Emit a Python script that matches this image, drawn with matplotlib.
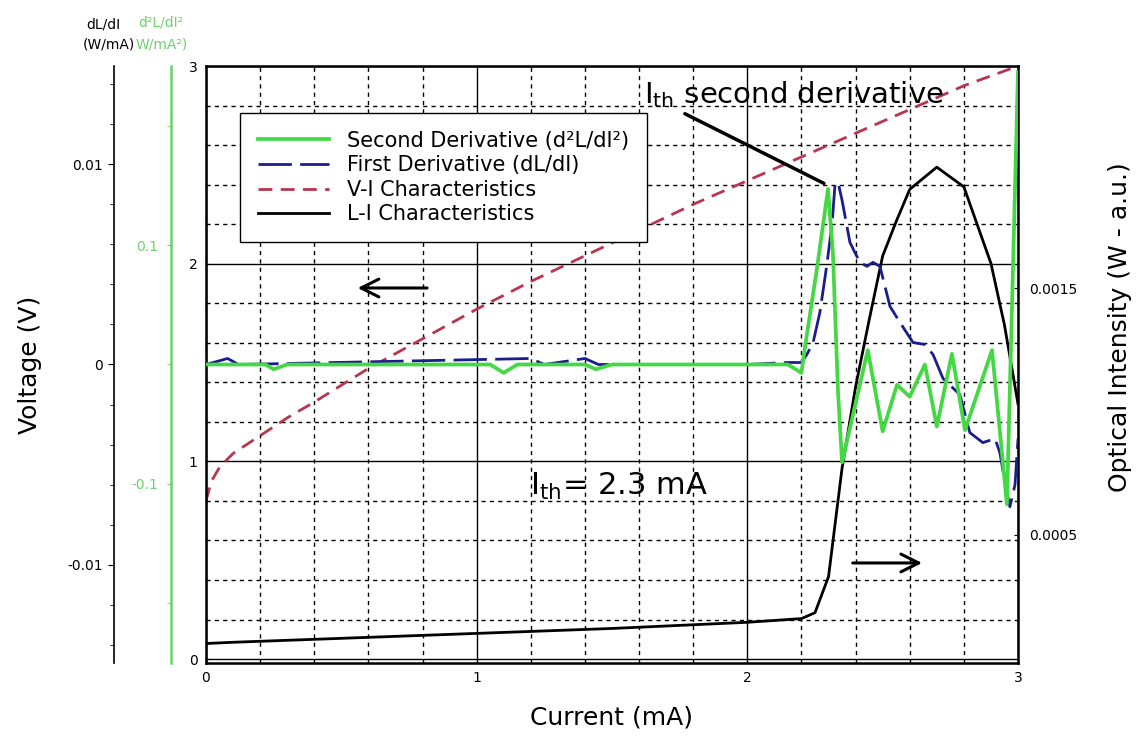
import matplotlib
matplotlib.use('Agg')
import matplotlib.pyplot as plt
from matplotlib.ticker import MultipleLocator, FixedLocator

plt.rcParams['font.family'] = ['DejaVu Sans']

# V-I characteristic (left axis, V)
current_vi = [0, 0.02, 0.05, 0.1, 0.2, 0.3, 0.4, 0.6, 0.8, 1.0, 1.2, 1.4,
              1.6, 1.8, 2.0, 2.2, 2.4, 2.6, 2.8, 3.0]
voltage = [0.80, 0.90, 0.97, 1.04, 1.13, 1.22, 1.30, 1.47, 1.62, 1.77, 1.91,
           2.04, 2.17, 2.30, 2.42, 2.54, 2.66, 2.78, 2.90, 3.00]

# L-I characteristic (right axis, W)
current_li = [0, 0.1, 0.5, 1.0, 1.5, 2.0, 2.2, 2.25, 2.3, 2.35, 2.4, 2.45,
              2.5, 2.55, 2.6, 2.7, 2.8, 2.9, 2.95, 3.0]
intensity = [0.000059, 0.000064, 0.00008, 0.0001, 0.00012, 0.000145, 0.00016,
             0.000184, 0.00033, 0.00077, 0.00110, 0.00137, 0.00163, 0.00177,
             0.00190, 0.00199, 0.00191, 0.00160, 0.00135, 0.00103]

# first derivative dL/dI (W/mA)
current_d1 = [0, 0.08, 0.12, 1.2, 1.25, 1.4, 1.45, 2.0, 2.15, 2.2, 2.22, 2.243,
              2.268, 2.294, 2.313, 2.324, 2.335, 2.35, 2.379, 2.397, 2.416,
              2.442, 2.464, 2.49, 2.527, 2.564, 2.612, 2.656, 2.686, 2.723,
              2.785, 2.822, 2.87, 2.915, 2.933, 2.952, 2.97, 2.989, 3.0]
first_deriv = [0, 0.0003, 0, 0.0003, 0, 0.0003, 0, 0, 0.0001, 0.0001, 0.0005,
               0.0011, 0.0026, 0.0050, 0.0070, 0.0090, 0.0091, 0.0082, 0.0061,
               0.0056, 0.0051, 0.0049, 0.0051, 0.0049, 0.0029, 0.0021, 0.0011,
               0.0010, 0.0005, -0.0007, -0.0015, -0.0034, -0.0039, -0.0037,
               -0.0044, -0.0059, -0.0071, -0.0060, -0.0037]

# second derivative d2L/dI2 (W/mA^2)
current_d2 = [0, 0.22, 0.25, 0.3, 1.05, 1.1, 1.15, 1.4, 1.44, 1.5, 2.1, 2.15,
              2.2, 2.21, 2.257, 2.298, 2.316, 2.335, 2.35, 2.445, 2.5, 2.553,
              2.6, 2.656, 2.7, 2.756, 2.804, 2.904, 2.959, 3.0]
second_deriv = [0, 0, -0.004, 0, 0, -0.007, 0, 0, -0.004, 0, 0, 0, -0.007,
                0.010, 0.080, 0.147, 0.094, -0.023, -0.082, 0.012, -0.056,
                -0.017, -0.027, 0.0, -0.052, 0.009, -0.055, 0.012, -0.117,
                0.245]

green = '#45d845'
green_ax = '#6fd06f'
blue = '#1c1c8f'
red = '#b8354f'

W, H = 1138, 740
fig = plt.figure(figsize=(W / 100, H / 100), dpi=100)
ax = fig.add_axes([206 / W, 1 - 663 / H, 812 / W, 597 / H])
ax.set_xlim(0, 3)
ax.set_ylim(-0.02, 3.0)
ax.xaxis.set_major_locator(MultipleLocator(1))
ax.yaxis.set_major_locator(MultipleLocator(1))
ax.xaxis.set_minor_locator(MultipleLocator(0.2))
ax.yaxis.set_minor_locator(MultipleLocator(0.2))
ax.grid(which='major', color='black', lw=1.0, ls='-')
ax.grid(which='minor', color='black', lw=1.0, ls=(0, (3, 3)))
ax.tick_params(which='major', direction='in', length=3, labelsize=10, pad=6)
ax.tick_params(which='minor', length=0)
for s in ax.spines.values():
    s.set_linewidth(1.8)

fig.text(612 / W, 1 - 718 / H, 'Current (mA)', fontsize=18, ha='center', va='center')
fig.text(30 / W, 1 - 365 / H, 'Voltage (V)', fontsize=18, rotation=90,
         ha='center', va='center')
fig.text(1120 / W, 1 - 327 / H, 'Optical Intensity (W - a.u.)', fontsize=18,
         rotation=90, ha='center', va='center')

# right axis: optical intensity
ax_r = ax.twinx()
ax_r.set_ylim(-0.00002, 0.0024)
ax_r.yaxis.set_major_locator(FixedLocator([0.0005, 0.0015]))
ax_r.set_yticklabels(['0.0005', '0.0015'])
ax_r.tick_params(direction='in', length=3, labelsize=10, pad=8)

# first derivative axis
ax_d1 = ax.twinx()
ax_d1.set_ylim(-0.0149, 0.0149)
for k in ['right', 'top', 'bottom']:
    ax_d1.spines[k].set_visible(False)
ax_d1.spines['left'].set_visible(True)
ax_d1.spines['left'].set_position(('axes', -0.113))
ax_d1.spines['left'].set_linewidth(1.2)
ax_d1.yaxis.set_ticks_position('left')
ax_d1.yaxis.set_major_locator(FixedLocator([-0.01, 0, 0.01]))
ax_d1.set_yticklabels(['-0.01', '0', '0.01'])
ax_d1.yaxis.set_minor_locator(MultipleLocator(0.002))
ax_d1.tick_params(which='major', direction='out', length=4, labelsize=10, pad=4)
ax_d1.tick_params(which='minor', direction='out', length=3)

# second derivative axis
ax_d2 = ax.twinx()
ax_d2.set_ylim(-0.25, 0.25)
for k in ['right', 'top', 'bottom']:
    ax_d2.spines[k].set_visible(False)
ax_d2.spines['left'].set_visible(True)
ax_d2.spines['left'].set_position(('axes', -0.043))
ax_d2.spines['left'].set_color(green_ax)
ax_d2.spines['left'].set_linewidth(1.8)
ax_d2.yaxis.set_ticks_position('left')
ax_d2.yaxis.set_major_locator(FixedLocator([-0.1, 0.1]))
ax_d2.set_yticklabels(['-0.1', '0.1'])
ax_d2.yaxis.set_minor_locator(FixedLocator([-0.2, 0, 0.2]))
ax_d2.tick_params(which='major', direction='out', length=3, labelsize=10,
                  colors=green_ax, pad=6)
ax_d2.tick_params(which='minor', direction='out', length=3, colors=green_ax)

# curves
l_vi, = ax.plot(current_vi, voltage, color=red, lw=2, ls=(0, (5, 3)),
                label='V-I Characteristics')
l_li, = ax_r.plot(current_li, intensity, color='black', lw=2,
                  label='L-I Characteristics')
l_d1, = ax_d1.plot(current_d1, first_deriv, color=blue, lw=2,
                   ls=(0, (12, 3)), label='First Derivative (dL/dI)')
l_d2, = ax_d2.plot(current_d2, second_deriv, color=green, lw=2.7,
                   label='Second Derivative (d²L/dI²)')

# axis unit labels on top
fig.text(103 / W, 1 - 25 / H, 'dL/dI', fontsize=10, ha='center', va='center')
fig.text(135 / W, 1 - 44 / H, '(W/mA)', fontsize=10, ha='right', va='center')
fig.text(161 / W, 1 - 23 / H, 'd²L/dI²', fontsize=10, ha='center',
         va='center', color=green_ax)
fig.text(136 / W, 1 - 44 / H, 'W/mA²)', fontsize=10, ha='left',
         va='center', color=green_ax)

# annotations
ax_d2.text(1.62, 2.81, r'I$_{\rm th}$ second derivative', fontsize=21,
           transform=ax.transData, va='baseline', ha='left')
ax_d2.annotate('', xy=(2.292, 2.40), xytext=(1.76, 2.765), xycoords=ax.transData,
               textcoords=ax.transData,
               arrowprops=dict(arrowstyle='-', lw=2.5, color='black'))
ax_d2.text(1.197, 0.83, r'I$_{\rm th}$= 2.3 mA', fontsize=22,
           transform=ax.transData, va='baseline', ha='left')
ax_d2.annotate('', xy=(0.55, 1.877), xytext=(0.827, 1.877), xycoords=ax.transData,
               textcoords=ax.transData,
               arrowprops=dict(arrowstyle='->', lw=2.2, mutation_scale=32))
ax_d2.annotate('', xy=(2.656, 0.486), xytext=(2.379, 0.486), xycoords=ax.transData,
               textcoords=ax.transData,
               arrowprops=dict(arrowstyle='->', lw=2.2, mutation_scale=32))

leg = ax_d2.legend(handles=[l_d2, l_d1, l_vi, l_li], loc='upper left',
                   bbox_to_anchor=(240 / W, 1 - 113 / H),
                   bbox_transform=fig.transFigure, borderaxespad=0,
                   fontsize=15, handlelength=3.4, fancybox=False,
                   framealpha=1, edgecolor='black', labelspacing=0.22,
                   borderpad=0.85, handletextpad=0.9)
leg.get_frame().set_linewidth(1.0)

fig.savefig('out.png', dpi=100)
